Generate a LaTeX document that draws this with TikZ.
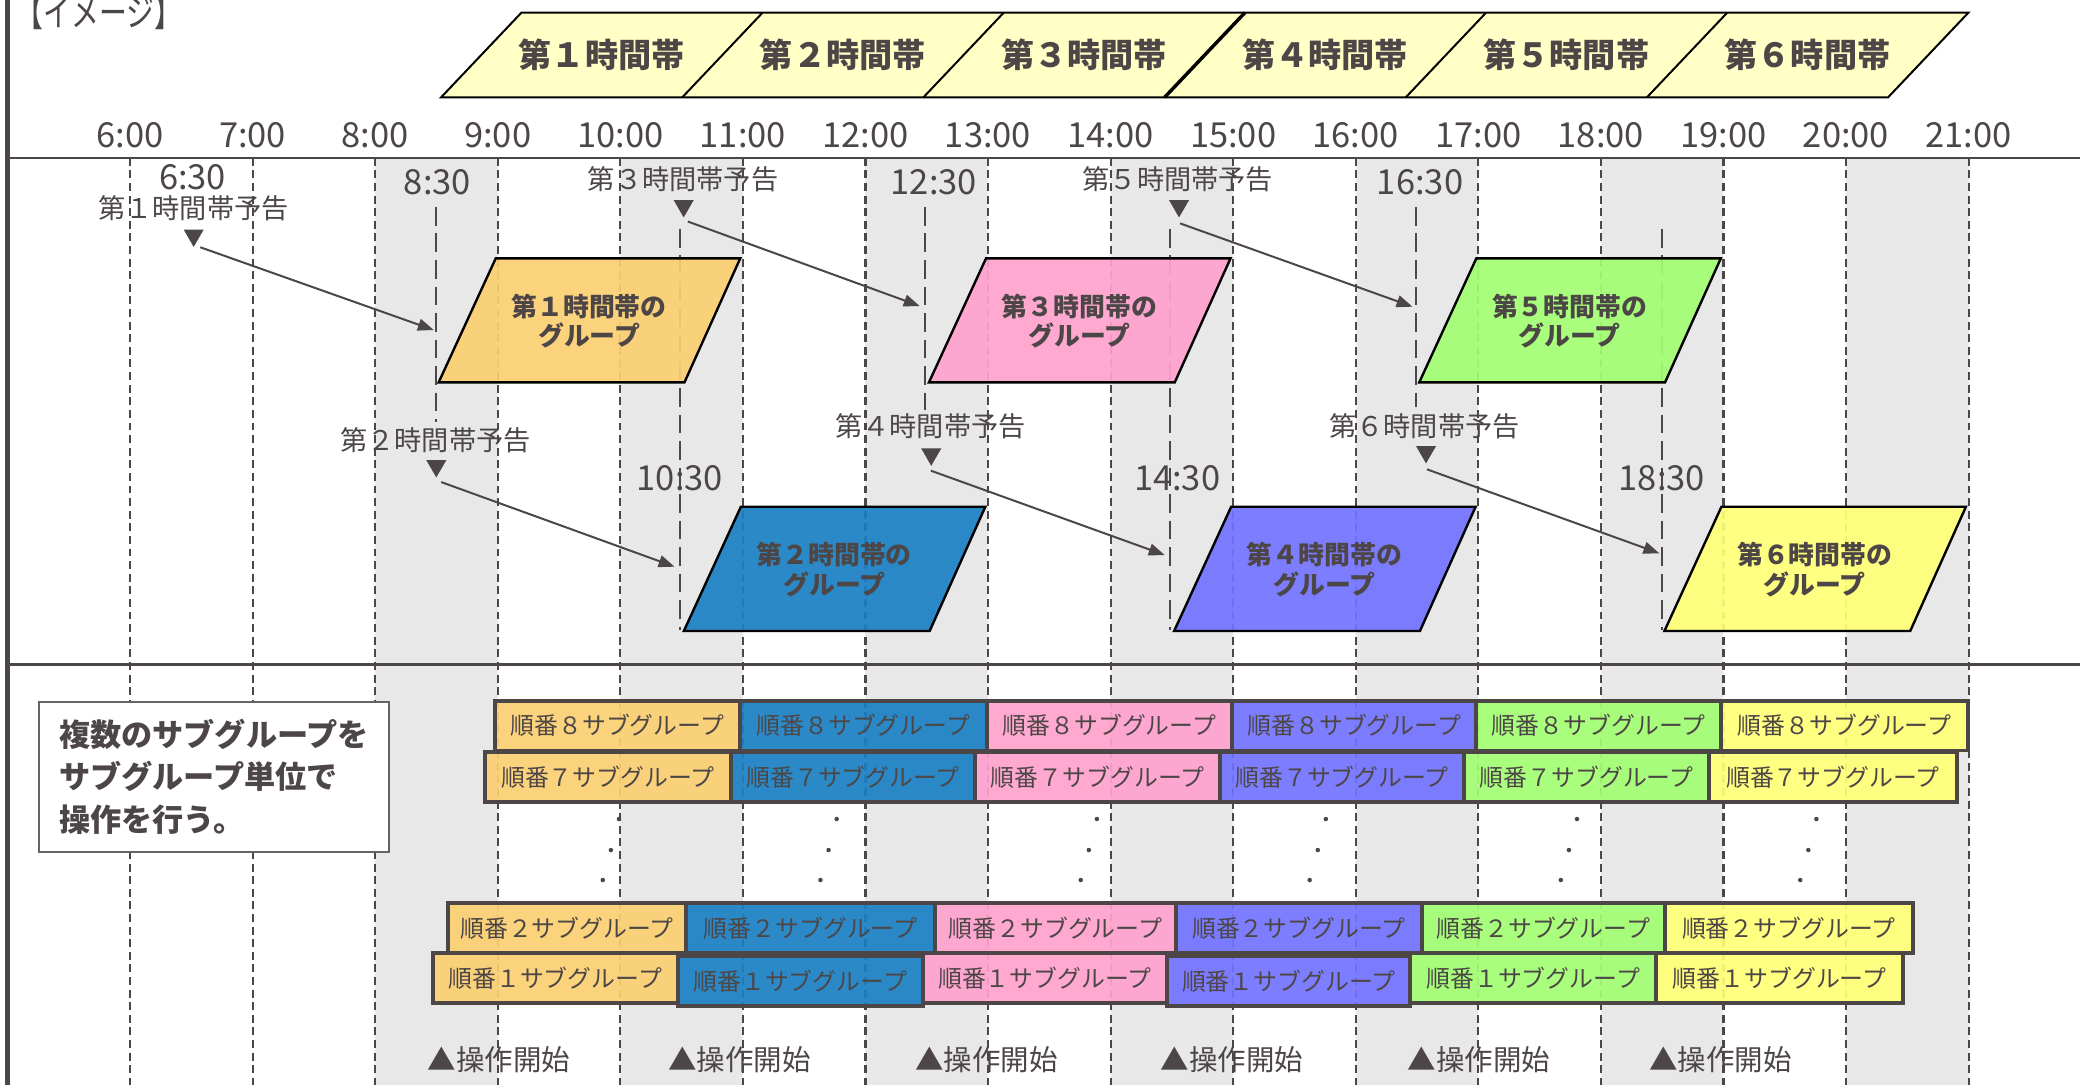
\documentclass[tikz,border=0pt]{standalone}
\usepackage{fontspec}
\setmainfont{Noto Sans CJK JP}
\usetikzlibrary{arrows.meta,shapes.geometric}
\definecolor{ink}{HTML}{4D4646}
\definecolor{band}{HTML}{E8E8E8}
\definecolor{hdr}{HTML}{FFFFC6}
\definecolor{cOr}{HTML}{FCD072}
\definecolor{cBl}{HTML}{1A80C4}
\definecolor{cPk}{HTML}{FFA2CE}
\definecolor{cPu}{HTML}{7272FF}
\definecolor{cGr}{HTML}{A2FF72}
\definecolor{cYe}{HTML}{FFFF78}
\begin{document}
\begin{tikzpicture}[x=1pt,y=-1pt,
  lbl/.style={inner sep=0pt, outer sep=0pt, text=ink},
  hourlbl/.style={lbl, font=\fontsize{26}{28}\selectfont},
  notelbl/.style={lbl, font=\fontsize{20.5}{22}\selectfont},
  hdrlbl/.style={lbl, font=\bfseries\fontsize{25}{27}\selectfont},
  grouptxt/.style={lbl, align=center, font=\bfseries\fontsize{19.5}{22}\selectfont},
  oplbl/.style={lbl, anchor=west, font=\fontsize{21.5}{23}\selectfont},
  hourline/.style={draw=ink, line width=1.6pt, dash pattern=on 6pt off 3.5pt},
  halfline/.style={draw=ink, line width=1.5pt, dash pattern=on 14pt off 6pt},
  rule/.style={draw=ink, line width=2pt},
  conn/.style={draw=ink, line width=1.5pt, -{Triangle[length=12pt,width=9pt]}},
  marker/.style={regular polygon, regular polygon sides=3, shape border rotate=180,
    fill=ink, draw=none, inner sep=0pt, outer sep=0pt, minimum size=17.5pt},
  grp/.style={draw=black, line width=1.8pt, fill opacity=0.92},
  subbar/.style={rectangle, draw=ink, line width=3pt, fill opacity=0.92, text opacity=1,
    text=ink, inner sep=0pt, minimum height=37.5pt, font=\fontsize{18}{18}\selectfont},
  notebox/.style={rectangle, draw=ink!85, line width=1.5pt, fill=white, align=left,
    text=ink, inner sep=0pt, font=\bfseries\fontsize{23.5}{32}\selectfont}
]
\useasboundingbox (0,0) rectangle (1568,818);
\fill[white] (0,0) rectangle (1568,818);

% grey bands
\foreach \i in {2,4,...,14}
  \fill[band] ({98+92.4*\i},119) rectangle ({98+92.4*(\i+1)},818);

% hour lines
\foreach \i in {0,...,15}
  \draw[hourline] ({98+92.4*\i},119) -- ({98+92.4*\i},818);

% rules
\draw[draw=ink, line width=4pt] (5.5,0) -- (5.5,818);
\draw[rule] (5.5,119) -- (1568,119);
\draw[rule] (5.5,501) -- (1568,501);

% title
\node[lbl, anchor=west, font=\fontsize{21}{23}\selectfont] (title) at (12,9) {\scalebox{1}[1.35]{【イメージ】}};

% header band
\filldraw[fill=hdr, draw=black, line width=1.5pt]
  (393,9.6) -- (1483.8,9.6) -- (1423.3,73.4) -- (332.5,73.4) -- cycle;
\foreach \i in {1,2,4,5}
  \draw[black, line width=1.5pt] ({393+181.8*\i},9.6) -- ({332.5+181.8*\i},73.4);
\draw[black, line width=2.6pt] ({393+181.8*3},9.6) -- ({332.5+181.8*3},73.4);
\foreach \i/\t in {0/第１時間帯,1/第２時間帯,2/第３時間帯,3/第４時間帯,4/第５時間帯,5/第６時間帯}
  \node[hdrlbl] (hd\i) at ({453.6+181.8*\i},41.5) {\t};

% hour labels
\foreach \i/\t in {0/6:00,1/7:00,2/8:00,3/9:00,4/10:00,5/11:00,6/12:00,7/13:00,8/14:00,9/15:00,10/16:00,11/17:00,12/18:00,13/19:00,14/20:00,15/21:00}
  \node[hourlbl] (h\i) at ({98+92.4*\i},101.8) {\t};

% half-hour labels
\node[hourlbl] (t0630) at (145.2,133.8) {6:30};
\node[hourlbl] (t0830) at (329.8,137.5) {8:30};
\node[hourlbl] (t1230) at (704,137.5) {12:30};
\node[hourlbl] (t1630) at (1070.5,137.5) {16:30};
\node[hourlbl] (t1030) at (512.5,360.6) {10:30};
\node[hourlbl] (t1430) at (887.4,360.6) {14:30};
\node[hourlbl] (t1830) at (1252.8,360.6) {18:30};

% half-hour lines
\draw[halfline] (329,156) -- (329,318);
\draw[halfline] (697,156) -- (697,309);
\draw[halfline] (1067.5,156) -- (1067.5,307);
\draw[halfline] (512.5,172.6) -- (512.5,475);
\draw[halfline] (882,172.6) -- (882,475);
\draw[halfline] (1252.6,172.6) -- (1252.6,475);

% group parallelograms
\foreach \k/\c/\yt/\yb/\t in {1/cOr/194.8/288.2/第１時間帯の,2/cBl/382/475.7/第２時間帯の,3/cPk/194.8/288.2/第３時間帯の,4/cPu/382/475.7/第４時間帯の,5/cGr/194.8/288.2/第５時間帯の,6/cYe/382/475.7/第６時間帯の} {
  \pgfmathsetmacro\xa{98+92.4*(3+2*(\k-1))}
  \pgfmathsetmacro\xb{\xa+184.8}
  \filldraw[grp, fill=\c] (\xa-1.5,\yt) -- (\xb-2,\yt) -- (\xb-44,\yb) -- (\xa-44.5,\yb) -- cycle;
  \node[grouptxt] (g\k) at ({(\xa+\xb)/2-23.5},{(\yt+\yb)/2+0.5}) {\t\\グループ};
}

% notice labels and markers
\node[notelbl] (y1) at (145.8,157) {第１時間帯予告};
\node[notelbl] (y3) at (515,135) {第３時間帯予告};
\node[notelbl] (y5) at (888,135) {第５時間帯予告};
\node[notelbl] (y2) at (328.3,331.7) {第２時間帯予告};
\node[notelbl] (y4) at (701.5,321.6) {第４時間帯予告};
\node[notelbl] (y6) at (1073.9,321.6) {第６時間帯予告};

\node[marker] (m1) at (146,177.4) {};
\node[marker] (m3) at (515.4,155.2) {};
\node[marker] (m5) at (888.8,155.2) {};
\node[marker] (m2) at (328.9,351.2) {};
\node[marker] (m4) at (702,342.4) {};
\node[marker] (m6) at (1075,340.6) {};

\coordinate (s1) at (151,186.4);   \coordinate (e1) at (327,248.8);
\coordinate (s3) at (518.5,167);   \coordinate (e3) at (693.3,230.7);
\coordinate (s5) at (889.6,168.4); \coordinate (e5) at (1064.8,231.2);
\coordinate (s2) at (332.6,363.4); \coordinate (e2) at (508.5,427.2);
\coordinate (s4) at (701.7,354.8); \coordinate (e4) at (878,418.4);
\coordinate (s6) at (1075.7,353.8);\coordinate (e6) at (1250.9,417.1);
\foreach \k in {1,...,6}
  \draw[conn] (s\k) -- (e\k);

% note box
\node[notebox, anchor=north west, minimum width=263.4pt, minimum height=113.1pt] (box)
  at (28.9,528.2) {複数のサブグループを\\サブグループ単位で\\操作を行う。};

% subgroup bars
\foreach \l/\r/\c/\n in {373/557.7/cOr/a,557.7/743.8/cBl/b,743.8/928.8/cPk/c,928.8/1113/cPu/d,1113/1297.3/cGr/e,1297.3/1483.6/cYe/f}
  \node[subbar, fill=\c, minimum width={\r-\l}] (r8\n) at ({(\l+\r)/2},547) {順番８サブグループ};
\foreach \l/\r/\c/\n in {365.4/551.2/cOr/a,551.2/735/cBl/b,735/920/cPk/c,920/1103.5/cPu/d,1103.5/1288.5/cGr/e,1288.5/1474.9/cYe/f}
  \node[subbar, fill=\c, minimum width={\r-\l}] (r7\n) at ({(\l+\r)/2},586) {順番７サブグループ};
\foreach \l/\r/\c/\n in {337.7/517.3/cOr/a,517.3/704.7/cBl/b,704.7/886.5/cPk/c,886.5/1071.9/cPu/d,1071.9/1254.8/cGr/e,1254.8/1442.2/cYe/f}
  \node[subbar, fill=\c, minimum width={\r-\l}] (r2\n) at ({(\l+\r)/2},699.6) {順番２サブグループ};
\foreach \l/\r/\c/\n/\dy in {326.2/510.8/cOr/a/0,510.8/695.6/cBl/b/2.5,695.6/879.8/cPk/c/0,879.8/1063.2/cPu/d/2.5,1063.2/1248.3/cGr/e/0,1248.3/1434.6/cYe/f/0}
  \node[subbar, fill=\c, minimum width={\r-\l}] (r1\n) at ({(\l+\r)/2},737.3+\dy) {順番１サブグループ};

% ellipsis dots
\foreach \x in {466.6,630.7,826.9,999.5,1188.8,1369.3} {
  \fill[ink] (\x,617.4) circle (1.7);
  \fill[ink] (\x-6.1,640.8) circle (1.7);
  \fill[ink] (\x-12.2,663.4) circle (1.7);
}

% operation start labels
\foreach \x/\n in {322.3/1,503.8/2,690/3,875/4,1061.3/5,1243.4/6}
  \node[oplbl] (op\n) at (\x,799) {▲操作開始};
\end{tikzpicture}
\end{document}
